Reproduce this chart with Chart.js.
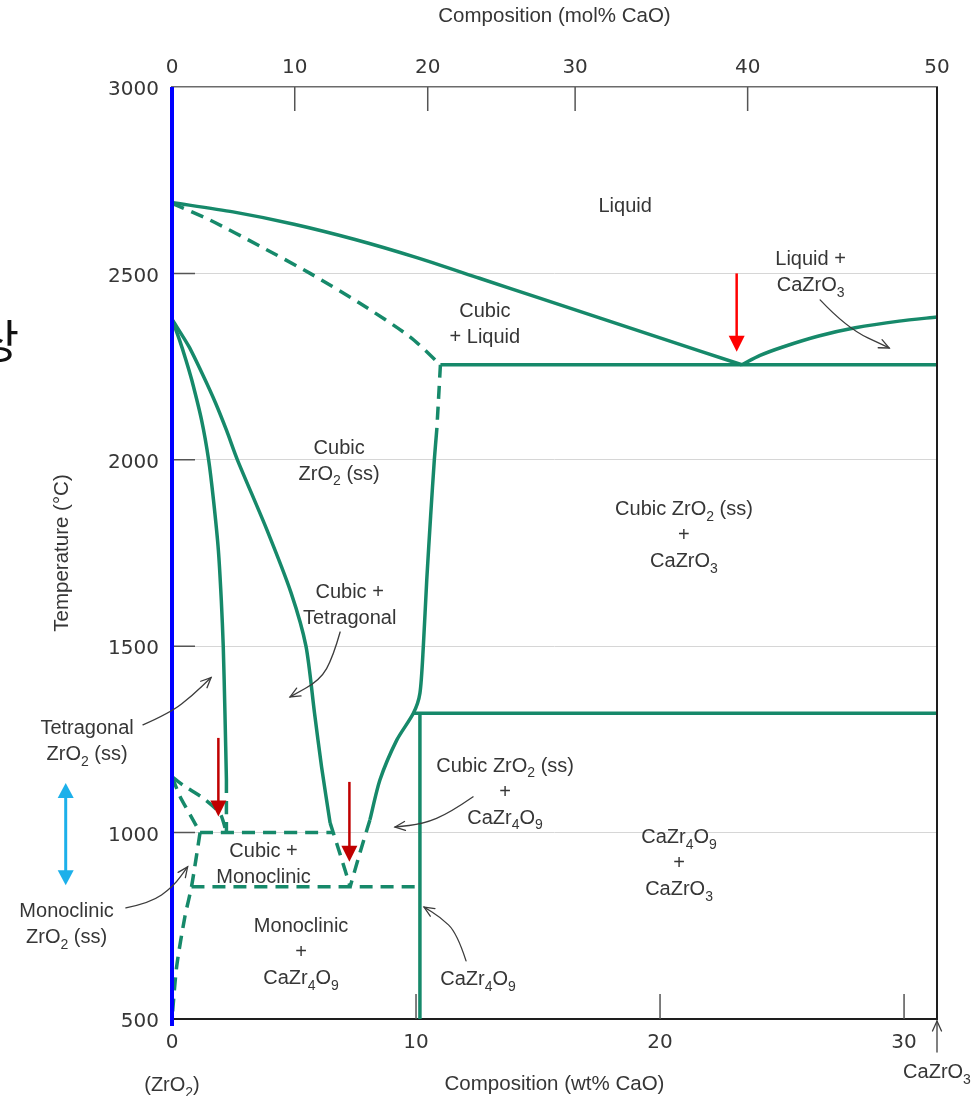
<!DOCTYPE html>
<html>
<head>
<meta charset="utf-8">
<title>ZrO2 - CaO phase diagram</title>
<script src="https://cdn.jsdelivr.net/npm/chart.js@4.4.1/dist/chart.umd.min.js"></script>
<style>
  html, body { margin: 0; padding: 0; background: #fff; }
  #phaseChart { display: block; }
</style>
</head>
<body>
<canvas id="phaseChart" width="971" height="1096"></canvas>
<script>
// Diagrama de fases ZrO2 - CaO
// puntos: [wt% CaO, temperatura °C]
const liquidusLeft  = [[0, 2690], [2.5, 2665], [5, 2632], [7.5, 2591], [10, 2543], [12.6, 2487], [15.1, 2433], [20, 2327], [23.35, 2255]];
const liquidusRight = [[23.35, 2255], [24.1, 2280], [25.0, 2302], [26.5, 2332], [28.0, 2354], [29.8, 2372], [31.35, 2383]];
const eutecticLine  = [[11.0, 2255], [31.35, 2255]];
const solidusCubic  = [[0, 2688], [1.56, 2643], [3.61, 2573], [5.66, 2500], [7.7, 2420], [9.75, 2330], [11.0, 2255]];
const cubicTopDash  = [[11.0, 2255], [10.92, 2160], [10.85, 2080]];
const cubicSolvus   = [[10.85, 2080], [10.75, 2000], [10.6, 1850], [10.44, 1678], [10.3, 1500], [10.16, 1374], [9.89, 1320], [9.21, 1248], [8.52, 1141], [8.11, 1034]];
const cubicLowDash  = [[8.11, 1034], [7.7, 945], [7.3, 855]];
const tetraSolvus   = [[0, 2377], [0.31, 2321], [0.57, 2268], [0.81, 2214], [1.21, 2107], [1.5, 2000], [1.7, 1892], [1.9, 1758], [2.02, 1624], [2.1, 1500], [2.17, 1321], [2.23, 1141]];
const tetraLowDash  = [[2.23, 1141], [2.23, 1000]];
const cubicTetra    = [[0, 2377], [0.69, 2304], [1.26, 2228], [1.78, 2153], [2.24, 2078], [2.68, 2000], [3.89, 1812], [4.88, 1643], [5.49, 1500], [5.84, 1321], [6.13, 1176], [6.48, 1026]];
const cubicTetraDash = [[6.48, 1026], [6.9, 940], [7.3, 855]];
const tetraUpper    = [[0, 1150], [0.46, 1127], [1.29, 1092], [1.97, 1051], [2.23, 1000]];
const tetraLower    = [[0, 1150], [0.33, 1097], [0.74, 1048], [1.15, 1000]];
const line1000      = [[1.15, 1000], [6.6, 1000]];
const monoSolvus    = [[1.15, 1000], [0.8, 855], [0.53, 775], [0.19, 640], [0, 500]];
const line855       = [[0.8, 855], [10.16, 855]];
const cazr4o9Line   = [[10.16, 1320], [10.16, 500]];
const line1320      = [[9.89, 1320], [31.35, 1320]];

// ejes
const tempTicks = [500, 1000, 1500, 2000, 2500, 3000];
const wtTicks   = [0, 10, 20, 30];
const molTicks  = [0, 10, 20, 30, 40, 50];
const molTickWt = [0, 5.03, 10.48, 16.52, 23.59, 31.35];

// rótulos de las regiones (centro x en wt%, línea base del primer renglón en °C)
const regionLabels = [
  { lines: ['Liquid'], x: 18.57, y: 2666 },
  { lines: ['Liquid +', 'CaZrO₃'], x: 26.17, y: 2522 },
  { lines: ['Cubic', '+ Liquid'], x: 12.82, y: 2382 },
  { lines: ['Cubic', 'ZrO₂ (ss)'], x: 6.85, y: 2016 },
  { lines: ['Cubic ZrO₂ (ss)', '+', 'CaZrO₃'], x: 20.98, y: 1852 },
  { lines: ['Cubic +', 'Tetragonal'], x: 7.28, y: 1628 },
  { lines: ['Tetragonal', 'ZrO₂ (ss)'], x: -3.48, y: 1264 },
  { lines: ['Cubic ZrO₂ (ss)', '+', 'CaZr₄O₉'], x: 13.65, y: 1163 },
  { lines: ['CaZr₄O₉', '+', 'CaZrO₃'], x: 20.78, y: 971 },
  { lines: ['Cubic +', 'Monoclinic'], x: 3.75, y: 935 },
  { lines: ['Monoclinic', 'ZrO₂ (ss)'], x: -4.32, y: 773 },
  { lines: ['Monoclinic', '+', 'CaZr₄O₉'], x: 5.29, y: 733 },
  { lines: ['CaZr₄O₉'], x: 12.54, y: 591 }
];

// flechas finas de los rótulos
const leaders = [
  [[26.56, 2429], [27.64, 2354], [29.39, 2300]],
  [[6.89, 1538], [6.6, 1471], [6.07, 1409], [4.84, 1364]],
  [[-1.19, 1289], [-0.08, 1321], [0.86, 1369], [1.6, 1416]],
  [[12.34, 1096], [11.39, 1053], [10.29, 1023], [9.14, 1015]],
  [[-1.89, 798], [-0.9, 811], [0.04, 854], [0.64, 908]],
  [[12.05, 656], [11.68, 731], [10.98, 774], [10.33, 800]]
];

// flechas rojas
const redArrows = [
  { x: 23.14, from: 2500, to: 2290, color: '#ff0000' },
  { x: 1.9, from: 1254, to: 1043, color: '#c00000' },
  { x: 7.27, from: 1136, to: 922, color: '#c00000' }
];

const green = '#16896a';
const textColor = '#363636';
const labelFont = '"Liberation Sans", Arial, sans-serif';

function seg(points, dashed) {
  return {
    data: points.map(p => ({ x: p[0], y: p[1] })),
    showLine: true,
    borderColor: green,
    borderWidth: 3.5,
    borderDash: dashed ? [13, 8] : [],
    borderCapStyle: 'butt',
    borderJoinStyle: 'round',
    pointRadius: 0,
    pointHoverRadius: 0,
    tension: 0.25,
    fill: false
  };
}

function drawRich(ctx, text, cx, baseY, size) {
  const subs = '₀₁₂₃₄₅₆₇₈₉';
  const runs = [];
  for (const ch of text) {
    const k = subs.indexOf(ch);
    const sub = k >= 0;
    const c = sub ? String(k) : ch;
    const last = runs[runs.length - 1];
    if (last && last.sub === sub) last.t += c;
    else runs.push({ t: c, sub: sub });
  }
  const fN = size + 'px ' + labelFont;
  const fS = Math.round(size * 0.7) + 'px ' + labelFont;
  let w = 0;
  runs.forEach(r => { ctx.font = r.sub ? fS : fN; r.w = ctx.measureText(r.t).width; w += r.w; });
  let xx = cx - w / 2;
  ctx.textAlign = 'left';
  ctx.textBaseline = 'alphabetic';
  runs.forEach(r => {
    ctx.font = r.sub ? fS : fN;
    ctx.fillText(r.t, xx, baseY + (r.sub ? size * 0.28 : 0));
    xx += r.w;
  });
}

function arrowHead(ctx, x, y, ang, len, half, filled) {
  const bx = x - Math.cos(ang) * len, by = y - Math.sin(ang) * len;
  const nx = -Math.sin(ang) * half, ny = Math.cos(ang) * half;
  ctx.beginPath();
  ctx.moveTo(bx + nx, by + ny);
  ctx.lineTo(x, y);
  ctx.lineTo(bx - nx, by - ny);
  if (filled) { ctx.closePath(); ctx.fill(); } else ctx.stroke();
}

const overlay = {
  id: 'overlay',
  afterDatasetsDraw(chart) {
    const { ctx, chartArea: a, scales } = chart;
    const sx = scales.x, sy = scales.y;
    const px = v => sx.getPixelForValue(v);
    const py = v => sy.getPixelForValue(v);
    ctx.save();

    // borde derecho
    ctx.strokeStyle = '#1e1e1e';
    ctx.lineWidth = 2;
    ctx.beginPath();
    ctx.moveTo(a.right, a.top);
    ctx.lineTo(a.right, a.bottom + 1);
    ctx.stroke();

    // marcas hacia dentro
    ctx.strokeStyle = '#555';
    ctx.lineWidth = 1.5;
    ctx.beginPath();
    tempTicks.slice(1, -1).forEach(t => { ctx.moveTo(a.left, py(t)); ctx.lineTo(a.left + 23, py(t)); });
    wtTicks.slice(1).forEach(t => { ctx.moveTo(px(t), a.bottom); ctx.lineTo(px(t), a.bottom - 25); });
    molTickWt.slice(1, -1).forEach(t => { ctx.moveTo(px(t), a.top); ctx.lineTo(px(t), a.top + 24); });
    ctx.stroke();

    // línea azul en ZrO2
    ctx.strokeStyle = '#0000ff';
    ctx.lineWidth = 4;
    ctx.beginPath();
    ctx.moveTo(a.left, a.top);
    ctx.lineTo(a.left, a.bottom + 7);
    ctx.stroke();

    // flechas rojas
    redArrows.forEach(r => {
      const x = px(r.x), y0 = py(r.from), y1 = py(r.to);
      ctx.strokeStyle = r.color;
      ctx.fillStyle = r.color;
      ctx.lineWidth = 2.5;
      ctx.beginPath();
      ctx.moveTo(x, y0);
      ctx.lineTo(x, y1 - 12);
      ctx.stroke();
      arrowHead(ctx, x, y1, Math.PI / 2, 16, 8, true);
    });

    // flecha doble celeste
    const cx = 65.7, cTop = py(1133), cBot = py(859);
    ctx.strokeStyle = '#1cb0ea';
    ctx.fillStyle = '#1cb0ea';
    ctx.lineWidth = 3;
    ctx.beginPath();
    ctx.moveTo(cx, cTop + 12);
    ctx.lineTo(cx, cBot - 12);
    ctx.stroke();
    arrowHead(ctx, cx, cTop, -Math.PI / 2, 15, 8, true);
    arrowHead(ctx, cx, cBot, Math.PI / 2, 15, 8, true);

    // líneas guía
    ctx.strokeStyle = '#3c3c3c';
    ctx.lineWidth = 1.3;
    ctx.lineCap = 'round';
    leaders.forEach(pts => {
      const p = pts.map(q => [px(q[0]), py(q[1])]);
      ctx.beginPath();
      ctx.moveTo(p[0][0], p[0][1]);
      for (let i = 1; i < p.length - 1; i++) {
        const mx = (p[i][0] + p[i + 1][0]) / 2, my = (p[i][1] + p[i + 1][1]) / 2;
        ctx.quadraticCurveTo(p[i][0], p[i][1], mx, my);
      }
      const e = p[p.length - 1], b = p[p.length - 2];
      ctx.lineTo(e[0], e[1]);
      ctx.stroke();
      arrowHead(ctx, e[0], e[1], Math.atan2(e[1] - b[1], e[0] - b[0]), 10, 4.5, false);
    });

    // rótulos
    ctx.fillStyle = textColor;
    regionLabels.forEach(l => {
      const x = px(l.x), y = py(l.y);
      l.lines.forEach((s, i) => drawRich(ctx, s, x, y + i * 26, 20));
    });

    // extremos del eje inferior
    drawRich(ctx, '(ZrO₂)', px(0), a.bottom + 72, 20);
    drawRich(ctx, 'CaZrO₃', px(31.35), a.bottom + 59, 20);
    ctx.strokeStyle = '#3c3c3c';
    ctx.lineWidth = 1.3;
    ctx.beginPath();
    ctx.moveTo(px(31.35), a.bottom + 33);
    ctx.lineTo(px(31.35), a.bottom + 2);
    ctx.stroke();
    arrowHead(ctx, px(31.35), a.bottom + 2, -Math.PI / 2, 10, 4.5, false);

    // carácter cortado en el borde
    ctx.fillStyle = '#111';
    ctx.font = '46px "Noto Sans CJK KR"';
    ctx.textAlign = 'right';
    ctx.textBaseline = 'middle';
    ctx.fillText('상', 19, 341);

    ctx.restore();
  }
};

const tickFont = { family: '"DejaVu Sans", sans-serif', size: 20 };
const titleFont = { family: labelFont, size: 20.5, lineHeight: 1 };
const gridColor = c => (c.tick && c.tick.value > 500 && c.tick.value < 3000 && c.tick.value !== 0) ? '#d6d6d6' : 'rgba(0,0,0,0)';

new Chart(document.getElementById('phaseChart'), {
  type: 'scatter',
  data: {
    datasets: [
      seg(liquidusLeft, false),
      seg(liquidusRight, false),
      seg(eutecticLine, false),
      seg(solidusCubic, true),
      seg(cubicTopDash, true),
      seg(cubicSolvus, false),
      seg(cubicLowDash, true),
      seg(tetraSolvus, false),
      seg(tetraLowDash, true),
      seg(cubicTetra, false),
      seg(cubicTetraDash, true),
      seg(tetraUpper, true),
      seg(tetraLower, true),
      seg(line1000, true),
      seg(monoSolvus, true),
      seg(line855, true),
      seg(cazr4o9Line, false),
      seg(line1320, false)
    ]
  },
  options: {
    responsive: false,
    animation: false,
    devicePixelRatio: 1,
    layout: { padding: { left: 0, right: 34, top: 0, bottom: 0 } },
    plugins: { legend: { display: false }, tooltip: { enabled: false } },
    scales: {
      x: {
        type: 'linear', position: 'bottom', min: 0, max: 31.35,
        afterBuildTicks: s => { s.ticks = wtTicks.map(v => ({ value: v })); },
        afterFit: s => { s.height = 77; },
        grid: { color: gridColor, lineWidth: 1, drawTicks: false },
        border: { color: '#1e1e1e', width: 2 },
        ticks: { color: textColor, font: tickFont, padding: 12, maxRotation: 0, autoSkip: false,
                 callback: v => String(v) },
        title: { display: true, text: 'Composition (wt% CaO)', color: textColor, font: titleFont, padding: { top: 0, bottom: 1 } }
      },
      x2: {
        type: 'linear', position: 'top', min: 0, max: 31.35,
        afterBuildTicks: s => { s.ticks = molTickWt.map(v => ({ value: v })); },
        afterFit: s => { s.height = 87; },
        grid: { display: false, drawTicks: false },
        border: { color: '#6b6b6b', width: 1.5 },
        ticks: { color: textColor, font: tickFont, padding: 7, maxRotation: 0, autoSkip: false,
                 callback: (v, i) => String(molTicks[i]) },
        title: { display: true, text: 'Composition (mol% CaO)', color: textColor, font: titleFont, padding: { top: 6, bottom: 0 } }
      },
      y: {
        type: 'linear', position: 'left', min: 500, max: 3000,
        afterBuildTicks: s => { s.ticks = tempTicks.map(v => ({ value: v })); },
        afterFit: s => { s.width = 172; },
        grid: { color: gridColor, lineWidth: 1, drawTicks: false },
        border: { display: false },
        ticks: { color: textColor, font: tickFont, padding: 13, labelOffset: 3,
                 callback: v => String(v) },
        title: { display: true, text: 'Temperature (°C)', color: textColor, font: titleFont, padding: { top: 52, bottom: 0 } }
      }
    }
  },
  plugins: [overlay]
});
</script>
</body>
</html>
